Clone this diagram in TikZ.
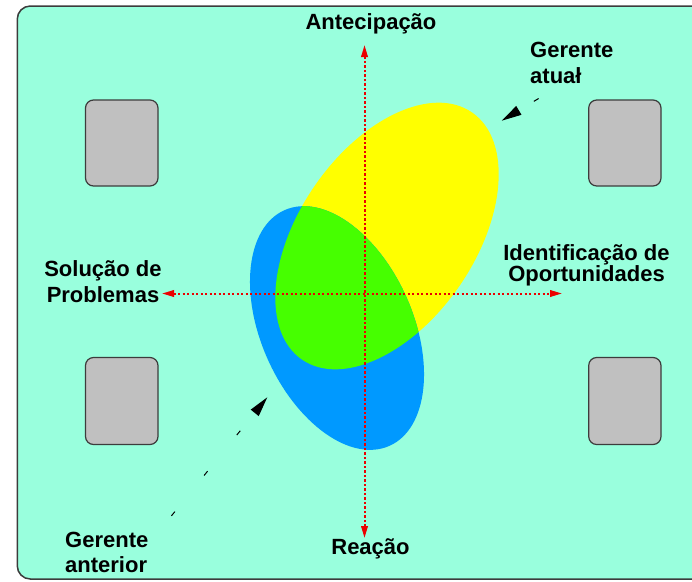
\documentclass[tikz,border=0pt]{standalone}
\usepackage{fontspec}
\setmainfont{Liberation Sans}
\usetikzlibrary{arrows.meta}
\definecolor{bgc}{RGB}{153,255,221}
\definecolor{yelc}{RGB}{255,255,0}
\definecolor{bluc}{RGB}{0,153,255}
\definecolor{grnc}{RGB}{70,255,0}
\definecolor{boxc}{RGB}{192,192,192}
\definecolor{edgec}{RGB}{60,60,60}
\definecolor{axc}{RGB}{235,0,0}
\newcommand\lftlines[3]{\vtop{\baselineskip=#1\halign{##\hfil\cr #2\cr #3\cr}}}
\newcommand\ctrlines[3]{\vtop{\baselineskip=#1\halign{\hfil##\hfil\cr #2\cr #3\cr}}}
\tikzset{
  lbl/.style={inner sep=0pt, font=\fontsize{22}{25}\selectfont\bfseries},
  graybox/.style={draw=edgec, line width=1.2pt, fill=boxc, rounded corners=8pt},
  yelshape/.style={rotate around={55.5:(387,236)}},
  blushape/.style={rotate around={-66:(337,328)}},
  axis/.style={color=axc, line width=2pt, dash pattern=on 2.2pt off 2.3pt,
    {Triangle[length=12pt,width=6.5pt,fill=axc]}-{Triangle[length=12pt,width=6.5pt,fill=axc]}},
  pointer/.style={draw=black, line width=1pt, dash pattern=on 5.5pt off 46.5pt,
    -{Triangle[length=20pt,width=10pt,fill=black]}}
}
\begin{document}
\begin{tikzpicture}[x=1pt,y=-1pt]
\useasboundingbox (0,0) rectangle (692,581);
% frame
\draw[edgec, line width=1.5pt, fill=bgc, rounded corners=13pt] (17.3,6) rectangle (720,579);
% gray boxes
\draw[graybox] (85.5,100) rectangle (158,186);
\draw[graybox] (85.5,357.5) rectangle (158,444.5);
\draw[graybox] (588.7,100) rectangle (661,186);
\draw[graybox] (588.7,357.5) rectangle (661,444.5);
% ellipses
\fill[yelc, yelshape] (387,236) ellipse [x radius=150, y radius=88];
\fill[bluc, blushape] (337,328) ellipse [x radius=129, y radius=76];
\begin{scope}
  \clip[yelshape] (387,236) ellipse [x radius=150, y radius=88];
  \fill[grnc, blushape] (337,328) ellipse [x radius=129, y radius=76];
\end{scope}
% axes
\coordinate (vtop) at (364.5,45);
\coordinate (vbot) at (364.5,538);
\coordinate (hleft) at (162,293.5);
\coordinate (hright) at (562,293.5);
\draw[axis] (vbot) -- (vtop);
\draw[axis] (hleft) -- (hright);
% labels
\node[lbl, anchor=base] (ante) at (371,29) {Antecipação};
\node[lbl, anchor=base] (reac) at (370.5,554) {Reação};
\node[lbl, anchor=base] (solu) at (103,276) {\ctrlines{26pt}{Solução de}{Problemas}};
\node[lbl, anchor=base] (iden) at (586.5,260) {\ctrlines{21pt}{Identificação de}{Oportunidades}};
\node[lbl, anchor=base west] (gatu) at (530,57.3) {\lftlines{26pt}{Gerente}{atuał}};
\node[lbl, anchor=base west] (gant) at (65,547.7) {\lftlines{24.5pt}{Gerente}{anterior}};
% pointers
\coordinate (pa1) at (538.6,98.5);
\coordinate (pa2) at (501.7,120.7);
\coordinate (pb1) at (171.4,515.9);
\coordinate (pb2) at (267.3,397.3);
\draw[pointer] (pa1) -- (pa2);
\draw[pointer] (pb1) -- (pb2);
\end{tikzpicture}
\end{document}
